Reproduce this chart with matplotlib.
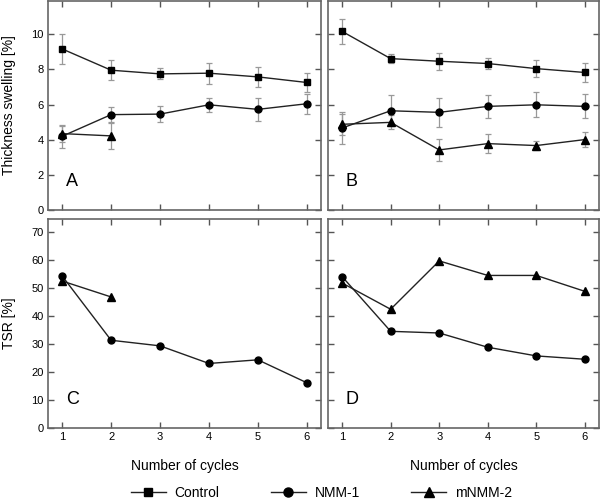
import numpy as np
import matplotlib
matplotlib.use("Agg")
import matplotlib.pyplot as plt
from matplotlib.lines import Line2D

plt.rcParams['font.family'] = ['Liberation Sans', 'DejaVu Sans']

cycles = [1, 2, 3, 4, 5, 6]

# thickness swelling, panel A
ts_a_control = [9.17, 7.96, 7.75, 7.79, 7.58, 7.26]
ts_a_control_err = [0.85, 0.58, 0.31, 0.6, 0.55, 0.56]
ts_a_nmm1 = [4.2, 5.43, 5.46, 5.99, 5.73, 6.05]
ts_a_nmm1_err = [0.65, 0.43, 0.47, 0.4, 0.67, 0.58]
ts_a_mnmm2 = [4.35, 4.22]
ts_a_mnmm2_err = [0.45, 0.74]

# thickness swelling, panel B
ts_b_control = [10.17, 8.62, 8.47, 8.34, 8.05, 7.83]
ts_b_control_err = [0.69, 0.26, 0.49, 0.32, 0.5, 0.55]
ts_b_nmm1 = [4.67, 5.65, 5.56, 5.9, 5.99, 5.9]
ts_b_nmm1_err = [0.9, 0.87, 0.82, 0.67, 0.72, 0.68]
ts_b_mnmm2 = [4.88, 4.99, 3.42, 3.78, 3.67, 4.01]
ts_b_mnmm2_err = [0.6, 0.4, 0.64, 0.53, 0.27, 0.45]

# TSR, panels C and D
tsr_c_nmm1 = [54.4, 31.4, 29.4, 23.1, 24.4, 16.2]
tsr_c_mnmm2 = [52.6, 46.9]
tsr_d_nmm1 = [54.2, 34.6, 34.0, 28.9, 25.8, 24.6]
tsr_d_mnmm2 = [51.9, 42.5, 59.8, 54.6, 54.6, 48.9]

W, H = 602, 499
fig = plt.figure(figsize=(W / 100, H / 100), dpi=100)

def box(l, r, t, b):
    return [l / W, 1 - b / H, (r - l) / W, (b - t) / H]

axA = fig.add_axes(box(48, 321, 1, 210))
axB = fig.add_axes(box(328, 599, 1, 210))
axC = fig.add_axes(box(48, 321, 219, 428))
axD = fig.add_axes(box(328, 599, 219, 428))

lc = '#222222'
ec = '#999999'
ms = {'s': 4.3, 'o': 5.0, '^': 5.2}

def series(ax, y, err, marker):
    n = len(y)
    if err is not None:
        ax.errorbar(cycles[:n], y, yerr=err, fmt='none', ecolor=ec,
                    elinewidth=0.9, capsize=2.3, capthick=0.9, zorder=2)
    ax.plot(cycles[:n], y, '-', color=lc, lw=1.0, marker=marker,
            ms=ms[marker], mfc='black', mec='black', zorder=3)

series(axA, ts_a_control, ts_a_control_err, 's')
series(axA, ts_a_nmm1, ts_a_nmm1_err, 'o')
series(axA, ts_a_mnmm2, ts_a_mnmm2_err, '^')

series(axB, ts_b_control, ts_b_control_err, 's')
series(axB, ts_b_nmm1, ts_b_nmm1_err, 'o')
series(axB, ts_b_mnmm2, ts_b_mnmm2_err, '^')

series(axC, tsr_c_nmm1, None, 'o')
series(axC, tsr_c_mnmm2, None, '^')

series(axD, tsr_d_nmm1, None, 'o')
series(axD, tsr_d_mnmm2, None, '^')

for ax in (axA, axB, axC, axD):
    ax.set_xlim(0.71, 6.29)
    ax.set_xticks(cycles)
    ax.tick_params(direction='in', top=True, right=True, length=4,
                   width=1, color='#555555', labelsize=8, pad=3)
    for s in ax.spines.values():
        s.set_color('#666666')
        s.set_linewidth(1.2)

for ax in (axA, axB):
    ax.set_ylim(0, 11.9)
    ax.set_yticks([0, 2, 4, 6, 8, 10])
    ax.tick_params(labelbottom=False)
for ax in (axC, axD):
    ax.set_ylim(0, 74.8)
    ax.set_yticks(range(0, 71, 10))
    ax.set_xlabel('Number of cycles', fontsize=10, labelpad=12)
for ax in (axB, axD):
    ax.tick_params(labelleft=False)

axA.set_ylabel('Thickness swelling [%]', fontsize=10)
axC.set_ylabel('TSR [%]', fontsize=10)
axA.yaxis.set_label_coords(-0.118, 0.5)
axC.yaxis.set_label_coords(-0.118, 0.5)

for ax, letter in zip((axA, axB, axC, axD), 'ABCD'):
    ax.text(0.065, 0.135, letter, transform=ax.transAxes, fontsize=13,
            va='center', ha='left')

handles = [
    Line2D([], [], color=lc, lw=1.0, marker='s', ms=5.5, mfc='black', mec='black'),
    Line2D([], [], color=lc, lw=1.0, marker='o', ms=6.5, mfc='black', mec='black'),
    Line2D([], [], color=lc, lw=1.0, marker='^', ms=6.5, mfc='black', mec='black'),
]
fig.legend(handles, ['Control', 'NMM-1', 'mNMM-2'], loc='center',
           bbox_to_anchor=(321.5 / W, 1 - 493 / H), ncol=3, frameon=False,
           fontsize=10, handlelength=2.5, columnspacing=3.7, handletextpad=0.65,
           borderpad=0)

fig.savefig('out.png', dpi=100)
